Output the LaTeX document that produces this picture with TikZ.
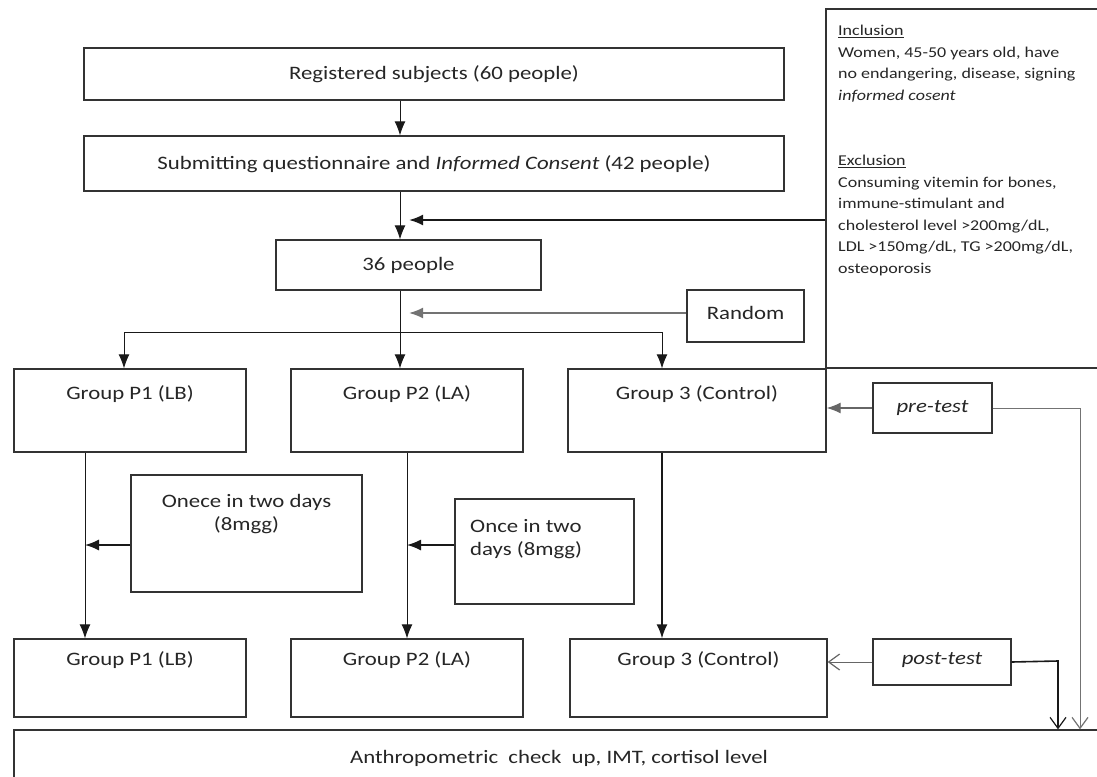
\documentclass[tikz,border=0pt]{standalone}
\usepackage{fontspec}
\setmainfont{Carlito}[FakeStretch=1.2]
\usetikzlibrary{arrows.meta}
\begin{document}
\begin{tikzpicture}[x=1pt,y=-1pt,
  box/.style={draw=black!80, line width=1.3pt, inner sep=0pt, fill=white},
  lbl/.style={inner sep=0pt, text=black!85, font=\fontsize{19}{23}\selectfont},
  arr/.style={-{Latex[length=14pt,width=11pt]}, line width=0.9pt, draw=black!90},
  oarr/.style={-{Straight Barb[length=11pt,width=16pt,line width=1.2pt]}, line width=1pt},
  thin/.style={line width=0.9pt, draw=black!90}]
\useasboundingbox (0,0) rectangle (1097,776);

% boxes
\node[box, minimum width=700pt, minimum height=52pt] (box1) at (434,74) {};
\node[lbl] (box1t) at (434,74) {Registered subjects (60 people)};
\node[box, minimum width=700pt, minimum height=55pt] (box2) at (434,163.5) {};
\node[lbl] (box2t) at (434,164) {Submitting questionnaire and \textit{Informed Consent} (42 people)};
\node[box, minimum width=265pt, minimum height=50pt] (p36) at (408.5,265) {};
\node[lbl] (p36t) at (408.5,265) {36 people};
\node[box, minimum width=117pt, minimum height=52pt] (random) at (745.5,316) {};
\node[lbl] (randomt) at (745.5,313) {Random};
\node[box, minimum width=294pt, minimum height=359pt] (incl) at (973,188.5) {};
\node[anchor=north west, align=left, inner sep=0pt, text=black!85,
      font=\fontsize{15}{21.5}\selectfont] (inclt) at (838,25)
  {\underline{Inclusion}\\
   Women, 45-50 years old, have\\
   no endangering, disease, signing\\
   \textit{informed cosent}\\[44pt]
   \underline{Exclusion}\\
   Consuming vitemin for bones,\\
   immune-stimulant and\\
   cholesterol level >200mg/dL,\\
   LDL >150mg/dL, TG >200mg/dL,\\
   osteoporosis};

\node[box, minimum width=232pt, minimum height=83pt] (g1a) at (130,410.5) {};
\node[lbl] (g1at) at (130,394) {Group P1 (LB)};
\node[box, minimum width=232pt, minimum height=83pt] (g2a) at (407,410.5) {};
\node[lbl] (g2at) at (407,394) {Group P2 (LA)};
\node[box, minimum width=258pt, minimum height=83pt] (g3a) at (697,410.5) {};
\node[lbl] (g3at) at (697,394) {Group 3 (Control)};
\node[box, minimum width=119pt, minimum height=50pt] (pre) at (932.5,408) {};
\node[lbl] (pret) at (932.5,408) {\textit{pre-test}};

\node[box, minimum width=231pt, minimum height=117pt] (onece) at (246.5,533.5) {};
\node[lbl, align=center] (onecet) at (246.5,514) {Onece in two days\\(8mgg)};
\node[box, minimum width=179pt, minimum height=105pt] (once) at (544.5,551.5) {};
\node[lbl, align=left, anchor=west] (oncet) at (470,539) {Once in two\\days (8mgg)};

\node[box, minimum width=232pt, minimum height=78pt] (g1b) at (130,678) {};
\node[lbl] (g1bt) at (130,660) {Group P1 (LB)};
\node[box, minimum width=232pt, minimum height=78pt] (g2b) at (407,678) {};
\node[lbl] (g2bt) at (407,660) {Group P2 (LA)};
\node[box, minimum width=257pt, minimum height=78pt] (g3b) at (698.5,678) {};
\node[lbl] (g3bt) at (698.5,660) {Group 3 (Control)};
\node[box, minimum width=138pt, minimum height=46pt] (post) at (942,662) {};
\node[lbl] (postt) at (942,660) {\textit{post-test}};

\node[box, minimum width=1106pt, minimum height=70pt] (anthro) at (567,765) {};
\node[lbl] (anthrot) at (559,758) {Anthropometric\ \ check\ \ up, IMT, cortisol level};

% helper coordinates
\coordinate (mx) at (400,0);
\coordinate (intip) at (409,220);
\coordinate (rtip) at (409,313);
\coordinate (br1) at (124,332);
\coordinate (br2) at (400,332);
\coordinate (br3) at (662,332);
\coordinate (c85) at (85,0);
\coordinate (c407) at (407,0);
\coordinate (a545) at (0,545);
\coordinate (pc) at (1080,408);
\coordinate (qc) at (1058,661);

% connectors
\draw[arr] (box1.south -| mx) -- (box2.north -| mx);
\draw[arr] (box2.south -| mx) -- (p36.north -| mx);
\draw[arr, line width=2pt] (incl.west |- intip) -- (intip);
\draw[arr, draw=black!55, line width=1.8pt] (random.west |- rtip) -- (rtip);
\draw[thin] (p36.south -| mx) -- (br2);
\draw[thin] (br1) -- (br3);
\draw[arr] (br1) -- (g1a.north -| br1);
\draw[arr] (br2) -- (g2a.north -| br2);
\draw[arr] (br3) -- (g3a.north -| br3);

\draw[arr] (g1a.south -| c85) -- (g1b.north -| c85);
\draw[arr, line width=1.4pt] (onece.west |- a545) -- (c85 |- a545);
\draw[arr] (g2a.south -| c407) -- (g2b.north -| c407);
\draw[arr, line width=1.4pt] (once.west |- a545) -- (c407 |- a545);
\draw[arr, line width=1.6pt] (g3a.south -| br3) -- (g3b.north -| br3);

\draw[arr, draw=black!60, line width=1.3pt] (pre.west) -- (g3a.east |- pre.west);
\draw[oarr, draw=black!55] (pre.east) -- (pc) -- (anthro.north -| pc);
\draw[oarr, draw=black!60] (post.west) -- (g3b.east |- post.west);
\draw[oarr, draw=black!90, line width=1.6pt] (post.east) -- (qc) -- (anthro.north -| qc);
\end{tikzpicture}
\end{document}
